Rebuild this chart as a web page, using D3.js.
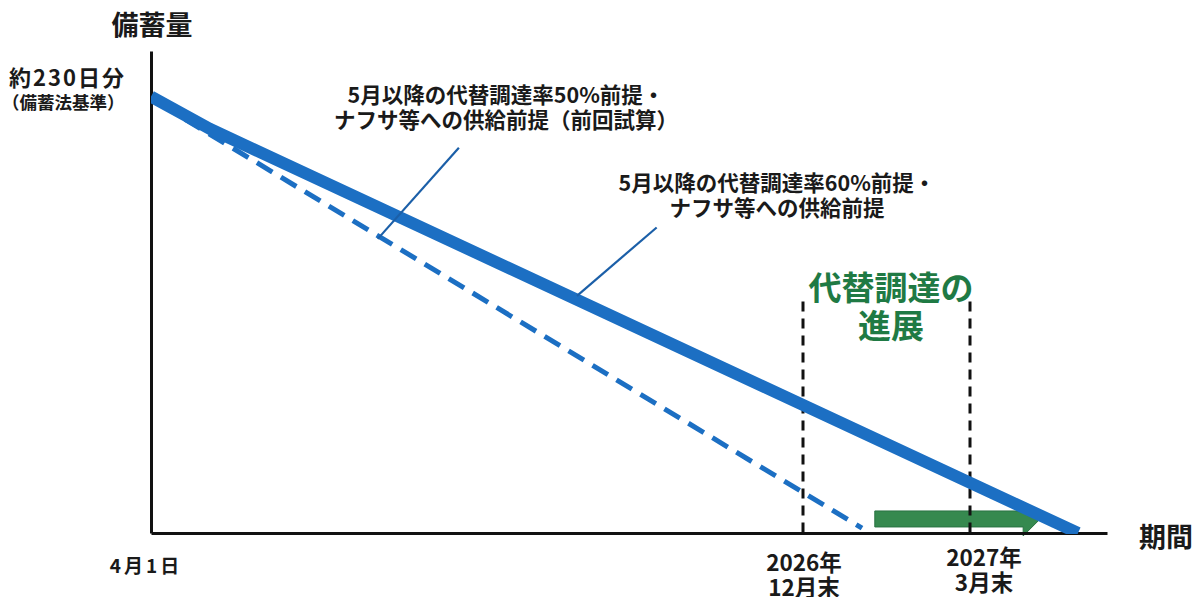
<!DOCTYPE html>
<html><head><meta charset="utf-8">
<script src="https://cdn.jsdelivr.net/npm/d3@7"></script>
<style>
html,body{margin:0;padding:0;background:#fff;}
svg{display:block;font-family:"Noto Sans CJK JP","Noto Sans",sans-serif;font-weight:700;}
</style></head>
<body><svg id="c" width="1200" height="597"></svg>
<script>
// ---- data (x in months from 4月1日, y in days of stockpile; schematic) ----
const xKnots = [0, 9, 12, 14.46];          // 4月1日, 2026年12月末, 2027年3月末, axis end
const yMax = 254;
const solidSeries = [ {m:0, v:230}, {m:0.81, v:213}, {m:13.94, v:0} ];      // 60% 前提
const dashedSeries = [ {m:0.47, v:218}, {m:10.06, v:2.6} ];                  // 50% 前提（前回試算）
const markers = [ {m:9, top:122}, {m:12, top:122} ];
const tickLabels = [
  {m:0,  lines:["4月1日"], dx:-5},
  {m:9,  lines:["2026年","12月末"], dx:1},
  {m:12, lines:["2027年","3月末"], dx:14}
];
const arrowSeries = {from:10.29, to:13.26, v:7.4};
const leaders = [
  [ {m:4.25, v:203}, {m:3.13, v:155} ],
  [ {m:6.98, v:161}, {m:5.88, v:125} ]
];
const yLabel = ["約230日分","（備蓄法基準）"];
const note50 = ["5月以降の代替調達率50%前提・","ナフサ等への供給前提（前回試算）"];
const note60 = ["5月以降の代替調達率60%前提・","ナフサ等への供給前提"];
const progress = ["代替調達の","進展"];

// ---- scales ----
const svg = d3.select("#c");
const x = d3.scaleLinear().domain(xKnots).range([151, 803, 970, 1107]);
const y = d3.scaleLinear().domain([0, yMax]).range([533, 51]);
const blue = "#1c6fc3", green = "#1f7a44", ink = "#1a1a1a";

// green arrow (behind lines)
{
  const x0 = x(arrowSeries.from), x1 = x(arrowSeries.to), yc = y(arrowSeries.v);
  const hl = 17, bh = 8, hh = 17;
  svg.append("path")
    .attr("d", `M${x0},${yc-bh} L${x1-hl},${yc-bh} L${x1-hl},${yc-hh} L${x1},${yc} L${x1-hl},${yc+hh} L${x1-hl},${yc+bh} L${x0},${yc+bh} Z`)
    .attr("fill", "#36894f").attr("stroke", "#2a7342").attr("stroke-width", 1);
}

// vertical dashed markers
svg.selectAll("line.mk").data(markers).join("line")
  .attr("x1", d => x(d.m)).attr("x2", d => x(d.m))
  .attr("y1", d => y(d.top)).attr("y2", y(0))
  .attr("stroke", "#111").attr("stroke-width", 3).attr("stroke-dasharray", "10,7");

// axes
const xAxis = d3.axisBottom(x).tickValues([]).tickSizeOuter(0);
svg.append("g").attr("transform", `translate(0,${y(0)})`).call(xAxis)
  .select(".domain").attr("stroke", "#111").attr("stroke-width", 3);
const yAxis = d3.axisLeft(y).tickValues([]).tickSizeOuter(0);
svg.append("g").attr("transform", `translate(${x(0)},0)`).call(yAxis)
  .select(".domain").attr("stroke", "#111").attr("stroke-width", 3);

// lines
const line = d3.line().x(d => x(d.m)).y(d => y(d.v));
svg.append("path").datum(dashedSeries).attr("d", line)
  .attr("fill", "none").attr("stroke", blue).attr("stroke-width", 5)
  .attr("stroke-dasharray", "18,10");
svg.append("defs").append("clipPath").attr("id", "clipAbove")
  .append("rect").attr("x", x(0)).attr("y", 0).attr("width", 1000).attr("height", y(0) + 1);
svg.append("path").datum(solidSeries).attr("d", line)
  .attr("fill", "none").attr("stroke", blue).attr("stroke-width", 12)
  .attr("stroke-linejoin", "round").attr("clip-path", "url(#clipAbove)");

// leader lines
svg.selectAll("path.ld").data(leaders).join("path")
  .attr("d", line).attr("fill", "none").attr("stroke", "#1b5fa8").attr("stroke-width", 2.2);

// texts
function block(lines, cx, y0, lh, size, color, anchor) {
  const t = svg.append("text").attr("font-size", size).attr("fill", color).attr("text-anchor", anchor || "middle");
  lines.forEach((s, i) => t.append("tspan").attr("x", cx).attr("y", y0 + i * lh).text(s));
  return t;
}
block(["備蓄量"], 152, 35, 0, 27, ink);
block(["期間"], 1166, 547, 0, 27, ink);
block([yLabel[0]], 9, 86, 0, 22, ink, "start").attr("letter-spacing", 2);
block([yLabel[1]], 2, 109, 0, 17.5, ink, "start");
block(note50, 506, 103, 25, 21.5, ink);
block(note60, 777, 191, 25, 21.5, ink);
block(progress, 891, 300, 38, 33, green);

tickLabels.forEach(t => {
  const sz = t.lines.length === 1 ? 19 : 22.5;
  const base = t.m === 0 ? 573 : (t.m === 9 ? 571 : 566);
  const tt = svg.append("text").attr("text-anchor", "middle").attr("fill", ink).attr("font-size", sz);
  t.lines.forEach((s, i) => tt.append("tspan").attr("x", x(t.m) + t.dx).attr("y", base + i * 25).text(s));
  if (t.m === 0) tt.attr("letter-spacing", 3);
});
</script></body></html>
